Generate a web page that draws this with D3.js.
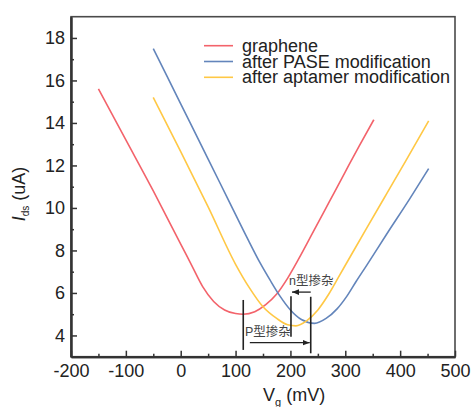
<!DOCTYPE html>
<html>
<head>
<meta charset="utf-8">
<script src="https://cdn.jsdelivr.net/npm/d3@7"></script>
<style>
  html, body { margin: 0; padding: 0; background: #fff; }
  svg { display: block; font-family: "Liberation Sans", Arial, sans-serif; }
</style>
</head>
<body>
<div id="chart"></div>
<script>
// series names + colours
const seriesNames = ['graphene', 'after PASE modification', 'after aptamer modification'];
const seriesColours = ['#f3636b', '#6385bb', '#ffc845'];

// [Vg (mV), Ids (uA)]
const graphene = [
  [-150, 15.6], [-100, 13.2], [-50, 10.8], [0, 8.3], [20, 7.3], [40, 6.3],
  [60, 5.6], [80, 5.2], [100, 5.03], [114, 5.0], [135, 5.12], [155, 5.45],
  [175, 5.95], [195, 6.7], [215, 7.6], [240, 8.8], [270, 10.25], [300, 11.7],
  [325, 12.9], [352, 14.15]
];
const pase = [
  [-50, 17.5], [0, 14.9], [50, 12.3], [87, 10.37], [120, 8.65], [145, 7.4],
  [163, 6.6], [181, 5.85], [200, 5.2], [220, 4.75], [244, 4.57], [265, 4.8],
  [285, 5.25], [303, 5.85], [320, 6.55], [339, 7.3], [375, 8.75], [418, 10.45], [452, 11.85]
];
const aptamer = [
  [-50, 15.2], [0, 12.65], [50, 10.05], [100, 7.35], [125, 6.25], [150, 5.35],
  [175, 4.8], [195, 4.5], [210, 4.45], [230, 4.7], [250, 5.2], [270, 5.95],
  [290, 6.85], [310, 7.75], [339, 9.05], [375, 10.65], [410, 12.2], [452, 14.1]
];

// axis ticks
const xTicks = [-200, -100, 0, 100, 200, 300, 400, 500];
const xMinorTicks = [-150, -50, 50, 150, 250, 350, 450];
const yTicks = [4, 6, 8, 10, 12, 14, 16, 18];
const yMinorTicks = [5, 7, 9, 11, 13, 15, 17];

// dirac points of the three curves (mV)
const diracPoints = [114, 201, 237];

const width = 475, height = 407;
const margin = { top: 16.7, right: 20, bottom: 50.3, left: 71 };
const fontSize = '18px';

const x = d3.scaleLinear().domain([-200, 500]).range([margin.left, width - margin.right]);
const y = d3.scaleLinear().domain([3, 19]).range([height - margin.bottom, margin.top]);

const svg = d3.select('#chart')
  .append('svg')
    .attr('width', width)
    .attr('height', height);

// frame
svg.append('rect')
  .attr('x', x(-200))
  .attr('y', y(19))
  .attr('width', x(500) - x(-200))
  .attr('height', y(3) - y(19))
  .attr('fill', 'none')
  .attr('stroke', '#4a4a4a')
  .attr('stroke-width', 1.6);

// axes - ticks point inwards, plain hyphen for negatives
let fmt = function(d){ return String(d) };

svg.append('g')
  .attr('transform', `translate(0,${y(3)})`)
  .call(d3.axisBottom(x).tickValues(xTicks).tickFormat(fmt).tickSizeInner(-6).tickSizeOuter(0).tickPadding(8));
svg.append('g')
  .attr('transform', `translate(0,${y(3)})`)
  .call(d3.axisBottom(x).tickValues(xMinorTicks).tickSizeInner(-3).tickSizeOuter(0).tickFormat(''));

svg.append('g')
  .attr('transform', `translate(${x(-200)},0)`)
  .call(d3.axisLeft(y).tickValues(yTicks).tickFormat(fmt).tickSizeInner(-6).tickSizeOuter(0).tickPadding(6));
svg.append('g')
  .attr('transform', `translate(${x(-200)},0)`)
  .call(d3.axisLeft(y).tickValues(yMinorTicks).tickSizeInner(-3).tickSizeOuter(0).tickFormat(''));

svg.selectAll('.domain').attr('stroke', '#333').attr('stroke-width', 2);
svg.selectAll('.tick line').attr('stroke', '#333').attr('stroke-width', 1.5);
svg.selectAll('.tick text')
  .attr('fill', '#222')
  .style('font-family', '"Liberation Sans", Arial, sans-serif')
  .style('font-size', fontSize);

// curves
let lineGen = d3.line()
  .x(function(d){ return x(d[0]) })
  .y(function(d){ return y(d[1]) })
  .curve(d3.curveMonotoneX);

[graphene, pase, aptamer].forEach(function(s, i){
  svg.append('path')
    .datum(s)
    .attr('fill', 'none')
    .attr('stroke', seriesColours[i])
    .attr('stroke-width', 1.6)
    .attr('d', lineGen);
});

// legend
let legend = svg.append('g').attr('class', 'legend');
seriesNames.forEach(function(name, i){
  let ly = 45.7 + i * 15.8;
  legend.append('line')
    .attr('x1', 204).attr('x2', 233)
    .attr('y1', ly).attr('y2', ly)
    .attr('stroke', seriesColours[i])
    .attr('stroke-width', 1.6);
  legend.append('text')
    .attr('x', 242)
    .attr('y', ly + 6)
    .attr('fill', '#222')
    .style('font-size', fontSize)
    .text(name);
});

// axis titles
svg.append('text')
  .attr('x', 263)
  .attr('y', 401)
  .attr('fill', '#222')
  .style('font-size', fontSize)
  .call(function(t){
    t.append('tspan').text('V');
    t.append('tspan').attr('dy', 5).style('font-size', '11px').text('g');
    t.append('tspan').attr('dy', -5).text(' (mV)');
  });

svg.append('text')
  .attr('transform', 'translate(25,194) rotate(-90)')
  .attr('text-anchor', 'middle')
  .attr('fill', '#222')
  .style('font-size', fontSize)
  .call(function(t){
    t.append('tspan').style('font-style', 'italic').text('I');
    t.append('tspan').attr('dy', 4).style('font-size', '10px').text('ds');
    t.append('tspan').attr('dy', -4).text(' (uA)');
  });

// dirac point markers
let markTop = [5.67, 5.85, 5.82];
let markBottom = [3.32, 3.94, 3.16];
diracPoints.forEach(function(v, i){
  svg.append('line')
    .attr('x1', x(v)).attr('x2', x(v))
    .attr('y1', y(markTop[i])).attr('y2', y(markBottom[i]))
    .attr('stroke', '#222')
    .attr('stroke-width', 1.6);
});

// arrow heads
svg.append('defs').append('marker')
  .attr('id', 'arrow')
  .attr('viewBox', '0 0 10 10')
  .attr('refX', 10).attr('refY', 5)
  .attr('markerWidth', 7).attr('markerHeight', 7)
  .attr('markerUnits', 'userSpaceOnUse')
  .attr('orient', 'auto')
  .append('path')
    .attr('d', 'M0,1 L10,5 L0,9 z')
    .attr('fill', '#222');

// n-type shift: PASE -> aptamer
svg.append('line')
  .attr('x1', x(diracPoints[2])).attr('x2', x(diracPoints[1]) + 1)
  .attr('y1', y(6.04)).attr('y2', y(6.04))
  .attr('stroke', '#222').attr('stroke-width', 1.3)
  .attr('marker-end', 'url(#arrow)');
svg.append('text')
  .attr('x', 289)
  .attr('y', 285)
  .attr('fill', '#444')
  .style('font-family', '"Liberation Sans", "Noto Sans CJK SC", sans-serif')
  .style('font-size', '12.5px')
  .text('n型掺杂');

// p-type shift: graphene -> PASE
svg.append('line')
  .attr('x1', x(126)).attr('x2', x(diracPoints[2]) - 1)
  .attr('y1', y(3.66)).attr('y2', y(3.66))
  .attr('stroke', '#222').attr('stroke-width', 1.3)
  .attr('marker-end', 'url(#arrow)');
svg.append('text')
  .attr('x', 245)
  .attr('y', 335.5)
  .attr('fill', '#444')
  .style('font-family', '"Liberation Sans", "Noto Sans CJK SC", sans-serif')
  .style('font-size', '12.5px')
  .text('P型掺杂');
</script>
</body>
</html>
